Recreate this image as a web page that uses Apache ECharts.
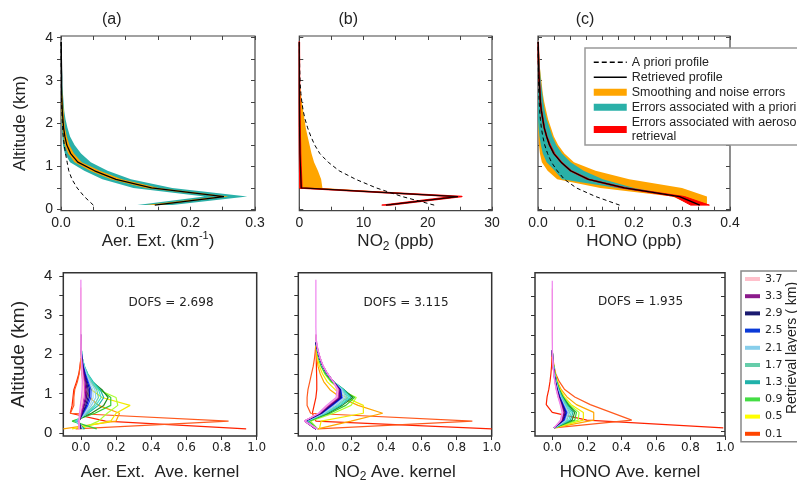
<!DOCTYPE html>
<html><head><meta charset="utf-8">
<script src="https://cdn.jsdelivr.net/npm/echarts@6/dist/echarts.min.js"></script>
<style>html,body{margin:0;padding:0;background:#fff}#c{width:797px;height:484px}</style>
</head><body><div id="c"></div>
<script>
// ---------- DATA ----------
const alts = [0.1,0.3,0.5,0.7,0.9,1.1,1.3,1.5,1.7,1.9,2.1,2.3,2.5,2.7,2.9,3.1,3.3,3.5,3.7,3.9];
const yTickVals = [0,0.5,1,1.5,2,2.5,3,3.5,4];
const yLabelVals = [0,1,2,3,4];
const kerXLabels = [0,0.2,0.4,0.6,0.8,1.0];
const layerNames = ['0.1','0.3','0.5','0.7','0.9','1.1','1.3','1.5','1.7','1.9','2.1','2.3','2.5','2.7','2.9','3.1','3.3','3.5','3.7','3.9'];
const legendLayers = ['3.7','3.3','2.9','2.5','2.1','1.7','1.3','0.9','0.5','0.1'];

// panel (a) aerosol extinction (km-1)
const aerRetr    = [0.145,0.252,0.14,0.085,0.052,0.026,0.015,0.009,0.006,0.004,0.003,0.002,0.0015,0.001,0.001,0.001,0.0008,0.0006,0.0005,0.0004];
const aerApriori = [0.05,0.036,0.025,0.017,0.012,0.0095,0.007,0.005,0.0035,0.0025,0.0018,0.0013,0.001,0.0007,0.0005,0.0004,0.0003,0.0002,0.0001,0.0001];
const aerTealLo  = [0.118,0.222,0.112,0.064,0.036,0.014,0.006,0.003,0.002,0.001,0.0005,0,0,0,0,0,0,0,0,0];
const aerTealHi  = [0.172,0.288,0.172,0.108,0.072,0.046,0.031,0.021,0.014,0.01,0.007,0.005,0.004,0.003,0.002,0.002,0.0015,0.001,0.001,0.0005];
const aerOrLo    = [0.132,0.244,0.131,0.077,0.045,0.021,0.011,0.006,0.004,0.002,0.001,0.0005,0,0,0,0];
const aerOrHi    = [0.153,0.259,0.151,0.094,0.06,0.032,0.02,0.013,0.009,0.006,0.005,0.004,0.003,0.002,0.0015,0.001];

// panel (b) NO2 (ppb)
const no2Retr    = [13.5,24.7,0.3,0.25,0.2,0.15,0.1,0.08,0.06,0.05,0.04,0.03,0.02,0.02,0.01,0.01,0.01,0,0,0];
const no2Apriori = [21,16,12,8.8,6.2,4.5,3.2,2.4,1.8,1.3,0.9,0.6,0.4,0.25,0.15,0.1,0.06,0.04,0.02,0.01];
const no2OrLo    = [13.2,24.3,0,0,0,0,0,0,0,0,0,0,0,0,0,0];
const no2OrHi    = [13.8,25.0,3.6,3.4,2.9,2.3,1.9,1.6,1.3,1.0,0.8,0.6,0.4,0.25,0.12,0.03];
const no2RedLo   = [12.9,24.1,0.1,0.08,0.06,0.05,0.03,0.02,0.01,0,0,0,0,0,0,0,0,0,0,0];
const no2RedHi   = [14.1,25.3,0.4,0.35,0.3,0.25,0.2,0.18,0.15,0.12,0.1,0.08,0.06,0.05,0.04,0.03,0.02,0.02,0.01,0.01];

// panel (c) HONO (ppb)
const honoRetr    = [0.337,0.295,0.18,0.105,0.068,0.048,0.033,0.024,0.018,0.013,0.01,0.007,0.005,0.004,0.003,0.002,0.0015,0.001,0.0007,0.0005];
const honoApriori = [0.17,0.12,0.08,0.055,0.04,0.028,0.02,0.014,0.01,0.007,0.005,0.0035,0.0025,0.0018,0.0013,0.001,0.0007,0.0005,0.0003,0.0002];
const honoOrLo    = [0.32,0.28,0.13,0.04,0.02,0.008,0.004,0.002,0.001,0,0,0,0,0,0,0,0,0,0,0];
const honoOrHi    = [0.352,0.352,0.30,0.19,0.12,0.075,0.055,0.042,0.033,0.027,0.021,0.017,0.013,0.01,0.008,0.006,0.004,0.003,0.002,0.001];
const honoTealLo  = [0.33,0.29,0.165,0.05,0.035,0.018,0.01,0.006,0.003,0.001,0,0,0,0,0,0,0,0,0,0];
const honoTealHi  = [0.345,0.30,0.2,0.135,0.095,0.068,0.05,0.038,0.03,0.024,0.018,0.014,0.011,0.009,0.007,0.005,0.004,0.003,0.002,0.001];
const honoRedLo   = [0.318,0.285,0.174,0.102,0.066,0.047,0.032,0.023,0.017,0.012,0.009,0.006,0.004,0.003,0.002,0.001,0.001,0,0,0];
const honoRedHi   = [0.357,0.305,0.186,0.108,0.07,0.05,0.035,0.026,0.019,0.014,0.011,0.008,0.006,0.005,0.004,0.003,0.002,0.002,0.0015,0.001];

// averaging kernels, one row per retrieval layer (0.1 ... 3.9 km), values at alts
const aerKernels = [
 [0.94,0.14,-0.06,-0.05,-0.045,-0.04,-0.025,-0.012,-0.005,0],
 [-0.03,0.84,-0.06,-0.04,-0.04,-0.035,-0.02,-0.01,-0.004,0],
 [-0.1,0.2,0.22,0.1,0.05,0.025,0.012,0.005,0.002,0],
 [-0.05,0.17,0.2,0.28,0.12,0.06,0.03,0.015,0.007,0.002,0],
 [0.0,0.1,0.15,0.21,0.2,0.1,0.05,0.025,0.012,0.005,0.002,0],
 [0.09,-0.05,0.08,0.17,0.17,0.11,0.06,0.03,0.015,0.006,0.002,0],
 [0.02,-0.03,0.06,0.13,0.155,0.12,0.065,0.035,0.017,0.007,0.003,0],
 [0.02,-0.03,0.04,0.1,0.13,0.11,0.07,0.04,0.02,0.008,0.003,0],
 [0.01,-0.03,0.035,0.085,0.115,0.1,0.065,0.038,0.02,0.008,0.003,0],
 [0.01,-0.02,0.03,0.075,0.1,0.09,0.06,0.035,0.018,0.008,0.003,0],
 [0.01,-0.02,0.025,0.06,0.085,0.08,0.055,0.032,0.017,0.008,0.003,0.001,0],
 [0.0,-0.02,0.02,0.05,0.07,0.068,0.048,0.029,0.016,0.007,0.003,0.001,0],
 [0.0,-0.015,0.015,0.04,0.057,0.058,0.042,0.026,0.014,0.006,0.002,0.001,0],
 [0.0,-0.015,0.01,0.033,0.048,0.05,0.037,0.023,0.012,0.005,0.002,0.001,0],
 [0.0,-0.01,0.01,0.027,0.04,0.042,0.032,0.02,0.011,0.005,0.002,0.001,0],
 [-0.005,-0.01,0.005,0.02,0.032,0.035,0.028,0.018,0.01,0.004,0.002,0.001,0],
 [-0.005,-0.01,0.003,0.015,0.025,0.028,0.023,0.015,0.008,0.004,0.002,0.001,0],
 [-0.01,-0.01,0,0.01,0.018,0.021,0.018,0.012,0.007,0.003,0.001,0.0005,0],
 [-0.01,-0.01,-0.005,0.004,0.01,0.014,0.013,0.009,0.005,0.003,0.001,0.0005,0,0,0,0,0,0,0],
 [-0.01,-0.012,-0.008,-0.003,0.003,0.007,0.008,0.006,0.004,0.002,0.001,0.0005,0,0,0,0,0,0,0,0]
];
const no2Kernels = [
 [1.0,0.0,-0.02,-0.01,0.0,0.005,0.005,0.004,0.003,0.002,0.001,0],
 [0.01,0.89,-0.03,-0.05,-0.05,-0.045,-0.035,-0.025,-0.015,-0.008,-0.003,0],
 [0.01,0.2,0.38,0.24,0.14,0.08,0.045,0.025,0.012,0.005,0.002,0],
 [0.02,0.03,0.27,0.27,0.17,0.11,0.065,0.038,0.02,0.01,0.004,0],
 [0.01,-0.03,0.1,0.2,0.23,0.14,0.085,0.05,0.03,0.015,0.006,0],
 [0.01,-0.04,0.08,0.17,0.22,0.15,0.09,0.055,0.03,0.016,0.007,0],
 [0.0,-0.05,0.07,0.15,0.21,0.16,0.1,0.06,0.035,0.018,0.008,0],
 [0.0,-0.05,0.06,0.14,0.2,0.16,0.1,0.062,0.036,0.019,0.008,0],
 [0,-0.05,0.055,0.13,0.19,0.155,0.1,0.063,0.037,0.02,0.009,0],
 [0,-0.055,0.05,0.12,0.18,0.15,0.1,0.063,0.037,0.02,0.009,0],
 [0,-0.055,0.045,0.11,0.17,0.15,0.1,0.064,0.038,0.021,0.009,0],
 [0,-0.06,0.04,0.1,0.16,0.145,0.1,0.064,0.038,0.021,0.01,0],
 [0,-0.06,0.035,0.095,0.15,0.14,0.1,0.065,0.039,0.022,0.01,0],
 [0,-0.06,0.03,0.09,0.145,0.14,0.1,0.065,0.04,0.022,0.01,0],
 [0,-0.06,0.03,0.085,0.14,0.135,0.1,0.066,0.04,0.023,0.011,0],
 [0,-0.065,0.025,0.08,0.135,0.135,0.1,0.066,0.04,0.023,0.011,0],
 [0,-0.065,0.02,0.075,0.13,0.13,0.1,0.067,0.041,0.024,0.011,0.003,0],
 [0,-0.065,0.02,0.07,0.125,0.13,0.1,0.067,0.041,0.024,0.012,0.004,0],
 [0.01,-0.065,0.015,0.065,0.12,0.125,0.1,0.068,0.042,0.025,0.012,0.004,0],
 [0.01,-0.065,0.015,0.06,0.115,0.12,0.1,0.068,0.042,0.025,0.012,0.004,0.001,0,0,0,0,0,0,0]
];
const honoKernels = [
 [0.99,0.2,0.0,-0.035,-0.03,-0.02,-0.013,-0.008,-0.004,-0.002,0],
 [0.01,0.46,0.34,0.22,0.13,0.07,0.04,0.02,0.01,0.004,0],
 [0.01,0.24,0.24,0.14,0.085,0.05,0.03,0.017,0.008,0.003,0],
 [0.01,0.18,0.18,0.11,0.07,0.045,0.028,0.016,0.008,0.003,0],
 [0.01,0.15,0.155,0.1,0.065,0.042,0.026,0.015,0.008,0.003,0],
 [0.01,0.13,0.14,0.095,0.062,0.04,0.025,0.015,0.008,0.003,0],
 [0.01,0.115,0.13,0.09,0.06,0.039,0.024,0.014,0.007,0.003,0],
 [0.01,0.105,0.12,0.085,0.057,0.037,0.023,0.014,0.007,0.003,0],
 [0.01,0.095,0.11,0.08,0.054,0.035,0.022,0.013,0.007,0.003,0],
 [0.01,0.085,0.1,0.075,0.051,0.033,0.021,0.013,0.007,0.003,0],
 [0.01,0.08,0.095,0.07,0.048,0.032,0.02,0.012,0.006,0.003,0],
 [0.01,0.075,0.09,0.067,0.046,0.03,0.019,0.012,0.006,0.003,0],
 [0.01,0.07,0.085,0.064,0.044,0.029,0.018,0.011,0.006,0.002,0],
 [0.01,0.066,0.08,0.061,0.042,0.028,0.018,0.011,0.006,0.002,0],
 [0.01,0.062,0.075,0.058,0.04,0.027,0.017,0.01,0.005,0.002,0],
 [0.01,0.058,0.07,0.055,0.038,0.026,0.016,0.01,0.005,0.002,0],
 [0.01,0.055,0.066,0.052,0.036,0.025,0.016,0.01,0.005,0.002,0],
 [0.01,0.052,0.062,0.05,0.035,0.024,0.015,0.009,0.005,0.002,0],
 [0.01,0.05,0.06,0.048,0.034,0.023,0.015,0.009,0.005,0.002,0.001,0.0005,0,0,0,0,0,0,0],
 [0.01,0.048,0.057,0.046,0.033,0.022,0.014,0.009,0.005,0.002,0.001,0.0005,0,0,0,0,0,0,0,0]
];
const dofs = ['2.698','3.115','1.935'];

// ---------- STYLE ----------
const FONT = '"Liberation Sans", Arial, sans-serif';
const DJ = '"DejaVu Sans", sans-serif';
const TXT = '#222';
const layerColors = ['#ff2200','#ff5a1e','#ffa500','#f2ea00','#adff2f','#32cd32','#228b22','#20b2aa','#40e0d0','#66cdaa',
  '#87ceeb','#add8e6','#1e50ff','#0000cd','#191970','#4b0082','#8b008b','#d040c8','#ffc0cb','#ee82ee'];
const legendColors = {'3.7':'#ffc0cb','3.3':'#8b1a8b','2.9':'#1a1a70','2.5':'#0a3ad8','2.1':'#87ceeb','1.7':'#66cdaa','1.3':'#20b2aa','0.9':'#44dd44','0.5':'#ffff00','0.1':'#ff4500'};
const ORANGE = '#ffa500', TEAL = '#2ab0a8', RED = '#ff0000';
const N_SMOOTH = 'Smoothing and noise errors', N_APR = 'Errors associated with a priori', N_AER = 'Errors associated with aerosol\nretrieval';

const topBox = [{left:61,top:36,width:194,height:174.7},{left:299.3,top:36,width:192.7,height:174.7},{left:538,top:36,width:192,height:174.7}];
const botBox = [{left:63.3,top:272.7,width:193.4,height:167.3},{left:298.3,top:272.7,width:193.4,height:167.3},{left:535,top:272.7,width:190,height:170}];

const grid = topBox.map(b => Object.assign({show:true, borderColor:'#444', borderWidth:1.2}, b))
  .concat(botBox.map(b => Object.assign({show:true, borderColor:'#333', borderWidth:1.5}, b)));

const tickLine = {color:'#444', width:1};
const noLine = {show:false, onZero:false};
const nameStyle = (fs) => ({fontFamily:FONT, fontSize:fs, color:TXT, lineHeight:22,
  rich:{sup:{fontFamily:FONT, fontSize:11, color:TXT, lineHeight:12, verticalAlign:'top'},
        sub:{fontFamily:FONT, fontSize:12, color:TXT, lineHeight:12, verticalAlign:'bottom'}}});

function topX(g, max, interval, split, fmt, name, isTop) {
  return {type:'value', gridIndex:g, position:isTop?'top':'bottom', min:0, max:max, interval:interval,
    axisLine:noLine, splitLine:{show:false},
    axisTick:{show:true, inside:true, length:4, lineStyle:tickLine},
    minorTick:{show:true, splitNumber:split, length:4, lineStyle:tickLine},
    axisLabel:{show:!isTop, formatter:fmt, fontFamily:FONT, fontSize:14, color:TXT, margin:5},
    name:isTop?'':name, nameLocation:'middle', nameGap:20, nameTextStyle:nameStyle(17)};
}
function topY(g, isRight) {
  const lab = (g === 0 && !isRight);
  return {type:'value', gridIndex:g, position:isRight?'right':'left', min:-0.03, max:4.04,
    axisLine:noLine, splitLine:{show:false},
    axisTick:{show:true, inside:!lab, length:4, customValues:yTickVals, lineStyle:tickLine},
    axisLabel:{show:lab, customValues:yLabelVals, fontFamily:FONT, fontSize:14, color:TXT, margin:8},
    name:lab?'Altitude (km)':'', nameLocation:'middle', nameRotate:90, nameGap:32,
    nameTextStyle:{fontFamily:FONT, fontSize:17, color:TXT}};
}
function botX(g, name) {
  return {type:'value', gridIndex:g, min:-0.1, max:1.0,
    axisLine:noLine, splitLine:{show:false},
    axisTick:{show:true, inside:false, length:4, customValues:kerXLabels, lineStyle:{color:'#333', width:1}},
    axisLabel:{customValues:kerXLabels, formatter:v => v.toFixed(1), fontFamily:DJ, fontSize:12, color:TXT, margin:6},
    name:name, nameLocation:'middle', nameGap:25, nameTextStyle:nameStyle(17)};
}
function botY(g, isRight) {
  const lab = (g === 3 && !isRight);
  const wide = (g === 5);
  return {type:'value', gridIndex:g, position:isRight?'right':'left', min:wide?-0.11:-0.08, max:wide?4.11:4.08,
    axisLine:noLine, splitLine:{show:false},
    axisTick:{show:true, inside:!!isRight, length:4, customValues:yTickVals, lineStyle:{color:'#333', width:1}},
    axisLabel:{show:lab, customValues:yLabelVals, fontFamily:FONT, fontSize:15, color:TXT, margin:11},
    name:lab?'Altitude (km)':'', nameLocation:'middle', nameRotate:90, nameGap:35,
    nameTextStyle:{fontFamily:FONT, fontSize:19, color:TXT}};
}

const xAxis = [
  topX(0, 0.3, 0.1, 2, v => v.toFixed(1), 'Aer. Ext. (km{sup|-1})', false),
  topX(1, 30, 10, 2, v => String(Math.round(v)), 'NO{sub|2} (ppb)', false),
  topX(2, 0.4, 0.1, 3, v => v.toFixed(1), 'HONO (ppb)', false),
  botX(3, 'Aer. Ext.  Ave. kernel'),
  botX(4, 'NO{sub|2} Ave. kernel'),
  botX(5, 'HONO Ave. kernel'),
  topX(0, 0.3, 0.1, 2, null, '', true),
  topX(1, 30, 10, 2, null, '', true),
  topX(2, 0.4, 0.1, 3, null, '', true)
];
const yAxis = [topY(0,false), topY(1,false), topY(2,false), botY(3,false), botY(4,false), botY(5,false),
  topY(0,true), topY(1,true), topY(2,true), botY(5,true)];

// ---------- SERIES ----------
function band(g, name, color, lo, hi, stroke) {
  const n = Math.min(lo.length, hi.length);
  const rows = [];
  for (let i = 0; i < n; i++) rows.push([lo[i], hi[i], alts[i]]);
  return {type:'custom', name:name, xAxisIndex:g, yAxisIndex:g, data:rows, encode:{x:[0,1], y:2},
    itemStyle:{color:color}, silent:true, z:1,
    renderItem: function (params, api) {
      if (params.dataIndex !== 0) return null;
      const pts = [];
      for (let i = 0; i < n; i++) pts.push(api.coord([lo[i], alts[i]]));
      for (let i = n - 1; i >= 0; i--) pts.push(api.coord([hi[i], alts[i]]));
      return {type:'polygon', shape:{points:pts},
        style:{fill:color, stroke:stroke ? color : null, lineWidth:stroke || 0, lineJoin:'round'}};
    }};
}
function prof(g, name, vals, style, z) {
  return {type:'line', name:name, xAxisIndex:g, yAxisIndex:g, data:vals.map((v,i) => [v, alts[i]]),
    symbol:'none', silent:true, z:z, lineStyle:style, itemStyle:{color:style.color}};
}
const series = [];
// (a)
series.push(band(0, N_APR, TEAL, aerTealLo, aerTealHi));
series.push(band(0, N_SMOOTH, ORANGE, aerOrLo, aerOrHi));
series.push(prof(0, 'A priori profile', aerApriori, {color:'#000', width:1, type:[4,3]}, 3));
series.push(prof(0, 'Retrieved profile', aerRetr, {color:'#000', width:1.3}, 4));
// (b)
series.push(band(1, N_SMOOTH, ORANGE, no2OrLo, no2OrHi));
series.push(band(1, N_AER, RED, no2RedLo, no2RedHi, 1.5));
series.push(prof(1, 'A priori profile', no2Apriori, {color:'#000', width:1, type:[4,3]}, 3));
series.push(prof(1, 'Retrieved profile', no2Retr, {color:'#1a0000', width:1.3}, 4));
// (c)
series.push(band(2, N_SMOOTH, ORANGE, honoOrLo, honoOrHi));
series.push(band(2, N_APR, TEAL, honoTealLo, honoTealHi));
series.push(band(2, N_AER, RED, honoRedLo, honoRedHi, 1));
series.push(prof(2, 'A priori profile', honoApriori, {color:'#000', width:1, type:[4,3]}, 3));
series.push(prof(2, 'Retrieved profile', honoRetr, {color:'#000', width:1.3}, 4));
// kernels
[aerKernels, no2Kernels, honoKernels].forEach((K, p) => {
  K.forEach((row, j) => {
    series.push({type:'line', name:layerNames[j], xAxisIndex:3+p, yAxisIndex:3+p,
      data:row.map((v,i) => [v, alts[i]]), symbol:'none', silent:true, z:2,
      lineStyle:{color:layerColors[j], width:1.2}, itemStyle:{color:layerColors[j]}});
  });
});

// ---------- GRAPHICS ----------
const graphic = [
  {type:'text', x:111.7, y:20, z:100, style:{text:'(a)', font:'16px ' + FONT, fill:TXT, align:'center', verticalAlign:'middle'}},
  {type:'text', x:348.3, y:20, z:100, style:{text:'(b)', font:'16px ' + FONT, fill:TXT, align:'center', verticalAlign:'middle'}},
  {type:'text', x:585, y:20, z:100, style:{text:'(c)', font:'16px ' + FONT, fill:TXT, align:'center', verticalAlign:'middle'}},
  {type:'text', x:171, y:303, z:100, style:{text:'DOFS = ' + dofs[0], font:'12px ' + DJ, fill:TXT, align:'center', verticalAlign:'middle'}},
  {type:'text', x:406, y:303, z:100, style:{text:'DOFS = ' + dofs[1], font:'12px ' + DJ, fill:TXT, align:'center', verticalAlign:'middle'}},
  {type:'text', x:640.5, y:302, z:100, style:{text:'DOFS = ' + dofs[2], font:'12px ' + DJ, fill:TXT, align:'center', verticalAlign:'middle'}},
  {type:'text', x:792, y:348, z:100, rotation:Math.PI/2, style:{text:'Retrieval layers ( km)', font:'14px ' + FONT, fill:TXT, align:'center', verticalAlign:'middle'}}
];

const noSym = {color:'rgba(0,0,0,0)', borderWidth:0, borderColor:'rgba(0,0,0,0)'};
const option = {
  animation:false,
  backgroundColor:'#fff',
  grid:grid, xAxis:xAxis, yAxis:yAxis, series:series, graphic:graphic,
  legend:[
    {orient:'vertical', left:585, top:48, padding:[7,40,1,8], itemGap:0.5, itemWidth:33, itemHeight:7,
     backgroundColor:'#fff', borderColor:'#999', borderWidth:1.5, selectedMode:false, z:20,
     textStyle:{fontFamily:FONT, fontSize:12.5, color:TXT, lineHeight:14.5},
     data:[{name:'A priori profile', itemStyle:noSym, lineStyle:{width:1.5, type:[5,3], color:'#000'}},
           {name:'Retrieved profile', itemStyle:noSym, lineStyle:{width:1.5, color:'#000'}},
           {name:N_SMOOTH, icon:'rect', itemStyle:{color:ORANGE}},
           {name:N_APR, icon:'rect', itemStyle:{color:TEAL}},
           {name:N_AER, icon:'rect', itemStyle:{color:RED}}]},
    {orient:'vertical', left:741, top:271, padding:[1,40,1,4], itemGap:3.2, itemWidth:15, itemHeight:4,
     backgroundColor:'#fff', borderColor:'#888', borderWidth:1.5, selectedMode:false, z:20,
     textStyle:{fontFamily:DJ, fontSize:11, color:TXT, lineHeight:14},
     data:legendLayers.map(n => ({name:n, icon:'rect', itemStyle:{color:legendColors[n]}}))}
  ]
};
const chart = echarts.init(document.getElementById('c'), null, {renderer:'canvas'});
chart.setOption(option);
</script></body></html>
